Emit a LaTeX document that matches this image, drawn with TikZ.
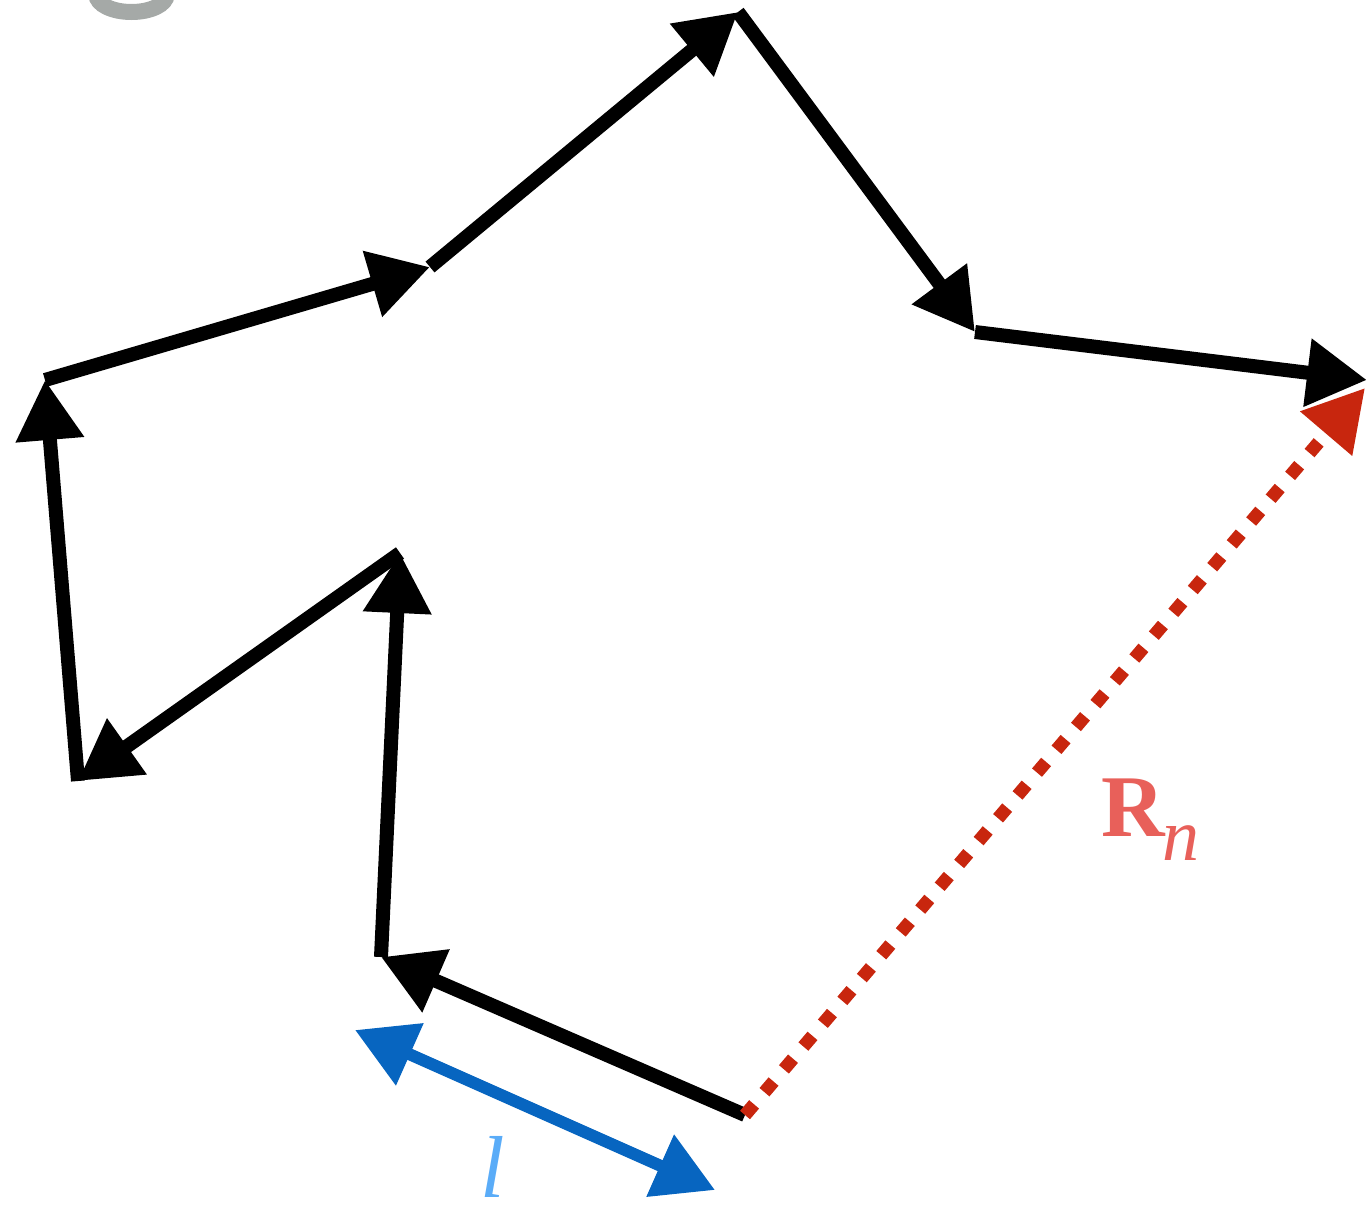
\documentclass[tikz,border=0pt]{standalone}
\usepackage{fontspec}
\setmainfont{Liberation Serif}
\usetikzlibrary{arrows.meta}
\definecolor{walkred}{HTML}{C8260E}
\definecolor{labred}{HTML}{E8605A}
\definecolor{stepblue}{HTML}{0765C0}
\definecolor{labblue}{HTML}{5AACF8}
\definecolor{glyphgray}{HTML}{A5A9A7}
\tikzset{
  bigtip/.style={-{Triangle[length=60pt,width=65pt]}},
  walkstep/.style={bigtip, line width=14pt, black},
  endtoend/.style={bigtip, line width=13pt, walkred, dash pattern=on 14pt off 16pt},
  steplen/.style={{Triangle[length=60pt,width=65pt]}-{Triangle[length=60pt,width=65pt]}, line width=12pt, stepblue},
  biglabel/.style={inner sep=0pt, font=\fontsize{88}{90}\selectfont}
}
\begin{document}
\begin{tikzpicture}[x=1pt,y=-1pt]
\useasboundingbox (0,0) rectangle (1367,1210);
% cropped gray glyph at top-left
\begin{scope}
\clip (0,0) rectangle (300,60);
\draw[glyphgray, line width=16pt] (96.5,-5) arc[start angle=180, end angle=0, x radius=35, y radius=17];
\end{scope}
% walk vertices
\coordinate (p0) at (745,1115);
\coordinate (p1) at (381,957);
\coordinate (p2) at (400,553);
\coordinate (p3) at (78,781);
\coordinate (p4) at (45,380);
\coordinate (p5) at (430,267);
\coordinate (p6) at (738,12);
\coordinate (p7) at (975,332);
\coordinate (p8) at (1367,380);
\coordinate (r1) at (1365,388);
\coordinate (b1) at (355,1030);
\coordinate (b2) at (715,1190);
% walk
\draw[walkstep] (p0) -- (p1);
\draw[walkstep] (p1) -- (p2);
\draw[walkstep] (p2) -- (p3);
\draw[walkstep] (p3) -- (p4);
\draw[walkstep] (p4) -- (p5);
\draw[walkstep] (p5) -- (p6);
\draw[walkstep] (p6) -- (p7);
\draw[walkstep] (p7) -- (p8);
% end-to-end vector
\draw[endtoend] (p0) -- (r1);
% step length
\draw[steplen] (b1) -- (b2);
% labels
\node[biglabel, text=labred, anchor=base west] (rn) at (1101,836) {\textbf{R}\kern-3pt\raisebox{-24pt}{\fontsize{74}{76}\selectfont\textit{n}}};
\node[biglabel, text=labblue, anchor=base] (ll) at (493,1197) {\textit{l}};
\end{tikzpicture}
\end{document}
